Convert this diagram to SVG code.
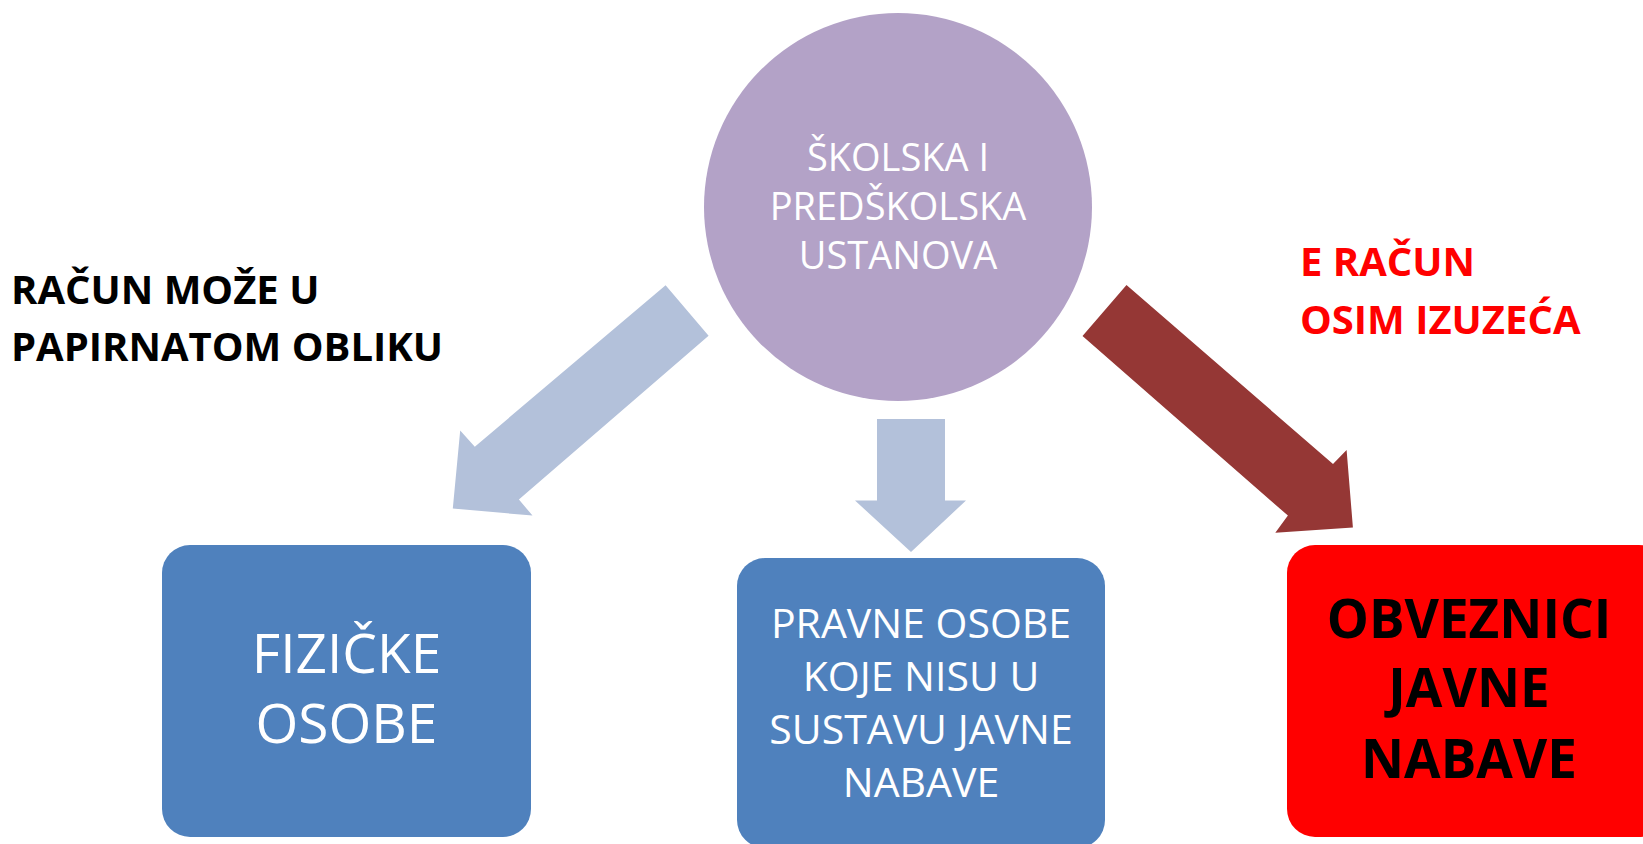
<svg xmlns="http://www.w3.org/2000/svg" width="1643" height="844" viewBox="0 0 1643 844">
<style>
.t{font-family:"Open Sans","Noto Sans","Liberation Sans",sans-serif;text-anchor:middle}
.w{fill:#FFFFFF}
.b{font-weight:bold}
.lab{font-family:"Open Sans","Noto Sans","Liberation Sans",sans-serif;font-weight:bold;font-size:40px}
.blue{fill:#4F81BD}
.la{fill:#B3C1DA}
</style>
<rect width="1643" height="844" fill="#FFFFFF"/>
<g id="connectors">
<polygon class="la" points="665.6,285.3 708.6,335.8 518.9,499.5 532.5,515.6 452.8,508.6 460.2,430.6 474.8,446.7"/>
<polygon class="la" points="877,419 945,419 945,500.5 966,500.5 911,552 855,500.5 877,500.5"/>
<polygon fill="#953735" points="1126.5,285 1333,464 1346.6,450 1352.9,527.4 1275.3,532.8 1287.9,515.6 1082.5,336"/>
</g>
<g id="node-ustanova">
<circle cx="898" cy="207" r="194" fill="#B3A2C7"/>
<text class="t w" font-size="38"><tspan x="898" y="171">ŠKOLSKA I</tspan><tspan x="898" y="220">PREDŠKOLSKA</tspan><tspan x="898" y="269">USTANOVA</tspan></text>
</g>
<g id="label-papir">
<text class="lab" fill="#000000"><tspan x="11" y="304">RAČUN MOŽE U</tspan><tspan x="11" y="361">PAPIRNATOM OBLIKU</tspan></text>
</g>
<g id="label-eracun">
<text class="lab" fill="#FF0000"><tspan x="1300" y="276">E RAČUN</tspan><tspan x="1300" y="334">OSIM IZUZEĆA</tspan></text>
</g>
<g id="node-fizicke">
<rect class="blue" x="162" y="545" width="369" height="292" rx="28"/>
<text class="t w" font-size="55"><tspan x="346.5" y="673">FIZIČKE</tspan><tspan x="346.5" y="743">OSOBE</tspan></text>
</g>
<g id="node-pravne">
<rect class="blue" x="737" y="558" width="368" height="290" rx="28"/>
<text class="t w" font-size="41"><tspan x="921" y="638">PRAVNE OSOBE</tspan><tspan x="921" y="691">KOJE NISU U</tspan><tspan x="921" y="744">SUSTAVU JAVNE</tspan><tspan x="921" y="797">NABAVE</tspan></text>
</g>
<g id="node-obveznici">
<rect x="1287" y="545" width="380" height="292" rx="28" fill="#FF0000"/>
<text class="t b" font-size="53" fill="#000000"><tspan x="1469" y="638">OBVEZNICI</tspan><tspan x="1469" y="707">JAVNE</tspan><tspan x="1469" y="778">NABAVE</tspan></text>
</g>
</svg>
